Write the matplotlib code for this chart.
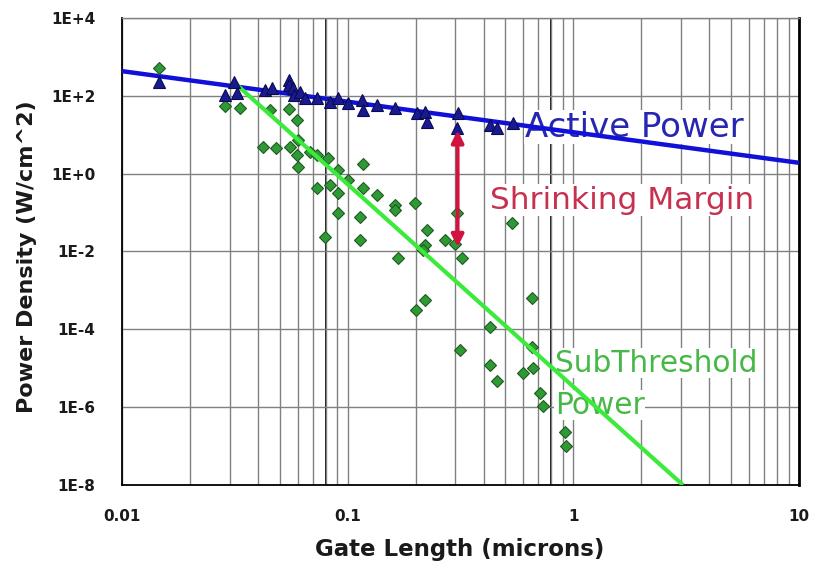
import numpy as np
import matplotlib
matplotlib.use("Agg")
import matplotlib.pyplot as plt
from matplotlib.ticker import LogLocator, NullFormatter

# ------------------------------------------
# Data
# ------------------------------------------
# Active power (blue triangles)
active_x = [0.0146, 0.0286, 0.0313, 0.0323, 0.043, 0.0462, 0.055, 0.055, 0.057,
            0.058, 0.0616, 0.065, 0.073, 0.0835, 0.0906, 0.10, 0.116, 0.117,
            0.135, 0.162, 0.203, 0.22, 0.224, 0.308, 0.305, 0.427, 0.459, 0.54]
active_y = [226, 105, 226, 118, 141, 159, 255, 190, 159,
            105, 125, 88, 88, 69, 88, 66, 78, 43,
            58, 49, 36, 38, 21, 36, 15, 18, 15, 20]

# Subthreshold power (green diamonds)
sub_x = [0.0146, 0.0286, 0.0333, 0.0453, 0.055, 0.0596, 0.0422, 0.0481, 0.0555,
         0.060, 0.0596, 0.060, 0.068, 0.073, 0.0818, 0.0906, 0.10, 0.117,
         0.0835, 0.073, 0.0906, 0.117, 0.135, 0.0906, 0.113, 0.0794, 0.113,
         0.162, 0.162, 0.199, 0.167, 0.224, 0.22, 0.215, 0.27, 0.30, 0.305,
         0.32, 0.22, 0.20, 0.656, 0.427, 0.315, 0.427, 0.459, 0.656, 0.598,
         0.66, 0.711, 0.73, 0.918, 0.93, 0.535]
sub_y = [519, 55, 49, 43, 46, 24, 4.8, 4.6, 4.8,
         7.3, 3.0, 1.5, 3.6, 3.0, 2.5, 1.24, 0.68, 1.77,
         0.51, 0.43, 0.32, 0.43, 0.28, 0.097, 0.077, 0.023, 0.020,
         0.156, 0.116, 0.175, 0.0068, 0.035, 0.0146, 0.011, 0.020, 0.016, 0.097,
         0.0068, 5.6e-4, 3.1e-4, 6.3e-4, 1.14e-4, 2.9e-5, 1.2e-5, 4.7e-6, 3.5e-5, 7.5e-6,
         1.0e-5, 2.3e-6, 1.07e-6, 2.3e-7, 1.0e-7, 0.054]

# Trend lines (end points)
active_fit_x = [0.01, 10]
active_fit_y = [430, 1.9]
sub_fit_x = [0.0316, 3.06]
sub_fit_y = [213, 1.0e-8]

# Shrinking margin arrow at one gate length
margin_x = 0.307
margin_top = 13
margin_bottom = 0.013

ytick_vals = [1e4, 1e2, 1e0, 1e-2, 1e-4, 1e-6, 1e-8]
ytick_labels = ["1E+4", "1E+2", "1E+0", "1E-2", "1E-4", "1E-6", "1E-8"]
xtick_vals = [0.01, 0.1, 1, 10]
xtick_labels = ["0.01", "0.1", "1", "10"]

# ------------------------------------------
# Plot
# ------------------------------------------
plt.rcParams["font.family"] = ["DejaVu Sans"]

fig = plt.figure(figsize=(8.15, 5.67), dpi=100)
ax = fig.add_axes([0.1497, 0.1446, 0.8307, 0.8237])

ax.set_xscale("log")
ax.set_yscale("log")
ax.set_xlim(0.01, 10)
ax.set_ylim(1e-8, 1e4)

# grid
ax.xaxis.set_minor_locator(LogLocator(base=10, subs=np.arange(2, 10)))
ax.xaxis.set_minor_formatter(NullFormatter())
ax.yaxis.set_minor_locator(plt.NullLocator())
ax.grid(True, which="major", axis="both", color="#808080", linewidth=1.0, zorder=0)
ax.grid(True, which="minor", axis="x", color="#808080", linewidth=1.0, zorder=0)
for xd in [0.08, 0.8]:
    ax.axvline(xd, color="black", linewidth=1.3, zorder=0.5)
ax.set_axisbelow(True)

ax.set_yticks(ytick_vals, labels=ytick_labels)
ax.set_xticks(xtick_vals, labels=xtick_labels)
ax.tick_params(axis="both", which="both", length=0)
ax.tick_params(axis="y", pad=19)
ax.tick_params(axis="x", pad=17)
for lab in ax.get_xticklabels() + ax.get_yticklabels():
    lab.set_fontsize(11)
    lab.set_fontweight("bold")
    lab.set_color("#1a1a1a")

ax.spines["top"].set_color("#808080")
ax.spines["top"].set_linewidth(1.0)
ax.spines["right"].set_color("black")
ax.spines["right"].set_linewidth(2.0)
ax.spines["left"].set_linewidth(1.3)
ax.spines["bottom"].set_linewidth(1.3)

# annotations (white boxes hide the grid, lines stay on top)
ax.text(0.61, 15.8, "Active Power", color="#2626B0", fontsize=24.5,
        ha="left", va="center", zorder=2,
        bbox=dict(facecolor="white", edgecolor="none", pad=0.5))
ax.text(0.427, 0.21, "Shrinking Margin", color="#C8304F", fontsize=22.5,
        ha="left", va="center", zorder=6,
        bbox=dict(facecolor="white", edgecolor="none", pad=1))
ax.text(0.829, 1.35e-5, "SubThreshold", color="#45B845", fontsize=21.3,
        ha="left", va="center", zorder=2,
        bbox=dict(facecolor="white", edgecolor="none", pad=0.5))
ax.text(0.829, 1.12e-6, "Power", color="#45B845", fontsize=21.3,
        ha="left", va="center", zorder=2,
        bbox=dict(facecolor="white", edgecolor="none", pad=0.5))

# lines and markers
ax.plot(active_fit_x, active_fit_y, color="#1010D8", linewidth=3.2, zorder=3,
        solid_capstyle="butt")
ax.plot(active_x, active_y, linestyle="none", marker="^", markersize=8,
        markerfacecolor="#1a1a90", markeredgecolor="#0a0a50", markeredgewidth=0.8, zorder=4)
ax.plot(sub_x, sub_y, linestyle="none", marker="D", markersize=6.5,
        markerfacecolor="#2f9a35", markeredgecolor="#1d5a20", markeredgewidth=0.8, zorder=3)
ax.plot(sub_fit_x, sub_fit_y, color="#3BEA3B", linewidth=3.0, zorder=3.5,
        solid_capstyle="butt")

# margin arrow
ax.annotate("", xy=(margin_x, margin_bottom), xytext=(margin_x, margin_top),
            arrowprops=dict(arrowstyle="<|-|>", color="#D0143F", linewidth=2.8,
                            mutation_scale=18, shrinkA=0, shrinkB=0), zorder=5)

# axis titles
fig.text(0.564, 0.03, "Gate Length (microns)", fontsize=16.5, fontweight="bold",
         ha="center", va="center", color="#1a1a1a")
fig.text(0.033, 0.548, "Power Density (W/cm^2)", fontsize=16, fontweight="bold",
         ha="center", va="center", rotation=90, color="#1a1a1a")

fig.savefig("out.png", dpi=100)
